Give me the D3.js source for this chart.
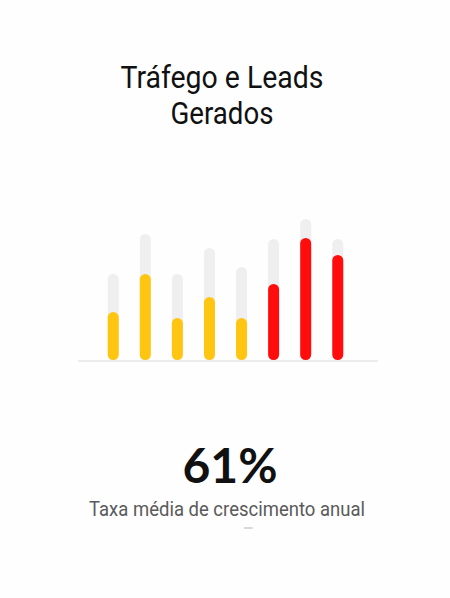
<!DOCTYPE html>
<html>
<head>
<meta charset="utf-8">
<title>Tráfego e Leads Gerados</title>
<style>
  html, body { margin: 0; padding: 0; background: #fefefe; }
  svg { display: block; }
  .title { font-family: "Roboto", sans-serif; font-size: 32px; fill: #111; }
  .big { font-family: "Lato", sans-serif; font-weight: 700; font-size: 48px; fill: #111; }
  .sub { font-family: "Roboto", sans-serif; font-size: 21px; fill: #5a5a5a; }
</style>
</head>
<body>
<svg width="450" height="598"></svg>
<script src="https://d3js.org/d3.v7.min.js"></script>
<script>
// dados
var categories = ["1", "2", "3", "4", "5", "6", "7", "8"];
var totalValues = [86, 126, 86, 112, 93, 121, 141, 121];   // barras cinzentas
var leadValues = [48, 86, 42, 63, 42, 76, 122, 105];       // barras coloridas
var highlight = [false, false, false, false, false, true, true, true];
var titleLines = ["Tráfego e Leads", "Gerados"];
var titleWidths = [203, 103];
var statValue = "61%";
var statLabel = "Taxa média de crescimento anual";

var svg = d3.select("svg");

var x = d3.scaleBand().domain(categories).range([98, 353]).paddingInner(0.65).paddingOuter(0.3);
var y = d3.scaleLinear().domain([0, 150]).range([360, 210]);
var bw = 11;

// titulo (fonte condensada simulada com textLength)
svg.append("g").selectAll("text")
  .data(titleLines)
  .enter().append("text")
  .attr("class", "title")
  .attr("x", 222)
  .attr("y", function(d, i) { return 88 + i * 36; })
  .attr("text-anchor", "middle")
  .attr("textLength", function(d, i) { return titleWidths[i]; })
  .attr("lengthAdjust", "spacingAndGlyphs")
  .text(function(d) { return d; });

// linha de base
svg.append("line")
  .attr("x1", 78).attr("x2", 378)
  .attr("y1", 361).attr("y2", 361)
  .attr("stroke", "#e6e6e6").attr("stroke-width", 1.5);

function cx(d, i) { return x(categories[i]) + x.bandwidth() / 2 - bw / 2; }

// barras de fundo
svg.append("g").selectAll("rect")
  .data(totalValues)
  .enter().append("rect")
  .attr("x", cx)
  .attr("y", function(d) { return y(d); })
  .attr("width", bw)
  .attr("height", function(d) { return y(0) - y(d); })
  .attr("rx", bw / 2)
  .attr("fill", "#efefef");

// barras de leads
svg.append("g").selectAll("rect")
  .data(leadValues)
  .enter().append("rect")
  .attr("x", cx)
  .attr("y", function(d) { return y(d); })
  .attr("width", bw)
  .attr("height", function(d) { return y(0) - y(d); })
  .attr("rx", bw / 2)
  .attr("fill", function(d, i) { return highlight[i] ? "#ff0d0d" : "#ffc510"; });

// estatistica
svg.append("text")
  .attr("class", "big")
  .attr("x", 230).attr("y", 483)
  .attr("text-anchor", "middle")
  .text(statValue);

svg.append("text")
  .attr("class", "sub")
  .attr("x", 227).attr("y", 516)
  .attr("text-anchor", "middle")
  .attr("textLength", 276)
  .attr("lengthAdjust", "spacingAndGlyphs")
  .text(statLabel);

svg.append("line")
  .attr("x1", 245).attr("x2", 252)
  .attr("y1", 528).attr("y2", 528)
  .attr("stroke", "#d8d8d8").attr("stroke-width", 2)
  .attr("stroke-linecap", "round");
</script>
</body>
</html>
